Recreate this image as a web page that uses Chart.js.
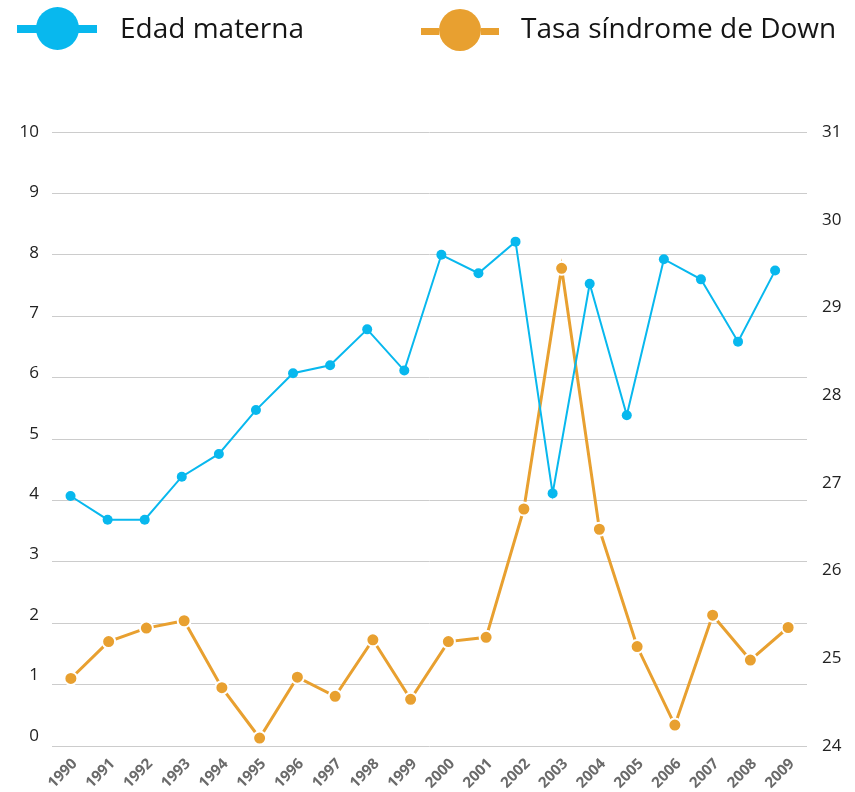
<!DOCTYPE html>
<html>
<head>
<meta charset="utf-8">
<script src="https://cdn.jsdelivr.net/npm/chart.js@4.4.1/dist/chart.umd.min.js"></script>
<style>
  html, body { margin: 0; padding: 0; background: #ffffff; }
  #wrap { position: relative; width: 855px; height: 792px; }
  #c { position: absolute; left: 0; top: 0; }
  .lg { position: absolute; font-family: "Open Sans", sans-serif; font-size: 28px; line-height: 38px; color: #151515; white-space: nowrap; }
  .blk { position: absolute; }
</style>
</head>
<body>
<div id="wrap">
  <canvas id="c" width="855" height="792"></canvas>
  <div id="legend"></div>
</div>
<script>
// ---- Data ----
const years = ['1990','1991','1992','1993','1994','1995','1996','1997','1998','1999',
               '2000','2001','2002','2003','2004','2005','2006','2007','2008','2009'];
const edadMaterna = [26.85, 26.58, 26.58, 27.07, 27.33, 27.83, 28.25, 28.34, 28.75, 28.28,
                     29.60, 29.39, 29.75, 26.88, 29.27, 27.77, 29.55, 29.32, 28.61, 29.42];
const tasaDown = [1.10, 1.70, 1.92, 2.04, 0.95, 0.13, 1.12, 0.81, 1.73, 0.76,
                  1.70, 1.77, 3.86, 7.78, 3.53, 1.62, 0.34, 2.13, 1.40, 1.93];
const seriesNames = ['Edad materna', 'Tasa síndrome de Down'];
const leftTicks = [0, 1, 2, 3, 4, 5, 6, 7, 8, 9, 10];
const rightTicks = [24, 25, 26, 27, 28, 29, 30, 31];

const BLUE = '#08b8ee';
const ORANGE = '#e8a030';

// ---- HTML legend ----
const lg = document.getElementById('legend');
function addBlock(l, t, w, h, col, round) {
  const d = document.createElement('div');
  d.className = 'blk';
  d.style.left = l + 'px'; d.style.top = t + 'px';
  d.style.width = w + 'px'; d.style.height = h + 'px';
  d.style.background = col;
  if (round) d.style.borderRadius = '50%';
  lg.appendChild(d);
}
function addText(l, t, txt) {
  const d = document.createElement('div');
  d.className = 'lg';
  d.style.left = l + 'px'; d.style.top = t + 'px';
  d.textContent = txt;
  lg.appendChild(d);
}
// blue: solid line + circle
addBlock(17, 25, 80, 8, BLUE, false);
addBlock(36, 7, 43, 43, BLUE, true);
addText(120, 8, seriesNames[0]);
// orange: dashed line + circle
addBlock(421, 28, 18, 7, ORANGE, false);
addBlock(481, 28, 18, 7, ORANGE, false);
addBlock(439, 9, 42, 42, ORANGE, true);
addText(521, 8, seriesNames[1]);

// ---- Chart ----
const blueData = edadMaterna.map((v, i) => ({ x: i, y: v }));

new Chart(document.getElementById('c'), {
  type: 'line',
  data: {
    labels: years,
    datasets: [
      {
        label: seriesNames[0],
        data: blueData,
        xAxisID: 'x2',
        yAxisID: 'y1',
        borderColor: BLUE,
        backgroundColor: BLUE,
        borderWidth: 2,
        pointRadius: 5,
        pointBorderWidth: 0,
        pointBackgroundColor: BLUE,
        tension: 0,
        fill: false
      },
      {
        label: seriesNames[1],
        data: tasaDown,
        xAxisID: 'x',
        yAxisID: 'yG',
        borderColor: ORANGE,
        backgroundColor: ORANGE,
        borderWidth: 3,
        pointRadius: 6.5,
        pointBorderWidth: 2,
        pointBorderColor: '#ffffff',
        pointBackgroundColor: ORANGE,
        tension: 0,
        fill: false
      }
    ]
  },
  options: {
    responsive: false,
    animation: false,
    devicePixelRatio: 1,
    layout: { padding: { top: 132, left: 0, right: 0, bottom: 0 } },
    plugins: {
      legend: { display: false },
      tooltip: { enabled: false },
      title: { display: false }
    },
    scales: {
      x: {
        type: 'category',
        position: 'bottom',
        offset: true,
        grid: { display: false, drawTicks: false },
        border: { display: false },
        ticks: {
          autoSkip: false,
          minRotation: 45,
          maxRotation: 45,
          padding: 9,
          labelOffset: 4,
          color: '#6a6a6a',
          font: { family: 'Open Sans', size: 15, weight: 'bold' }
        },
        afterFit: (s) => { s.height = 46; }
      },
      x2: {
        type: 'linear',
        display: false,
        min: -0.5,
        max: 19.86
      },
      yG: {
        type: 'linear',
        position: 'left',
        min: leftTicks[0],
        max: leftTicks[leftTicks.length - 1],
        ticks: { display: false, stepSize: 1 },
        grid: { color: '#cccccc', lineWidth: 1, drawTicks: false },
        border: { display: false },
        afterFit: (s) => { s.width = 0; }
      },
      y: {
        type: 'linear',
        position: 'left',
        min: -0.17,
        max: leftTicks[leftTicks.length - 1],
        afterBuildTicks: (s) => { s.ticks = leftTicks.map(v => ({ value: v })); },
        ticks: {
          padding: 13,
          color: '#222222',
          font: { family: 'Open Sans', size: 17 }
        },
        grid: { display: false, drawTicks: false },
        border: { display: false },
        afterFit: (s) => { s.width = 52; }
      },
      y1: {
        type: 'linear',
        position: 'right',
        min: rightTicks[0],
        max: rightTicks[rightTicks.length - 1],
        afterBuildTicks: (s) => { s.ticks = rightTicks.map(v => ({ value: v })); },
        ticks: {
          padding: 15,
          color: '#222222',
          font: { family: 'Open Sans', size: 17 }
        },
        grid: { display: false, drawTicks: false },
        border: { display: false },
        afterFit: (s) => { s.width = 48; }
      }
    }
  }
});
</script>
</body>
</html>
